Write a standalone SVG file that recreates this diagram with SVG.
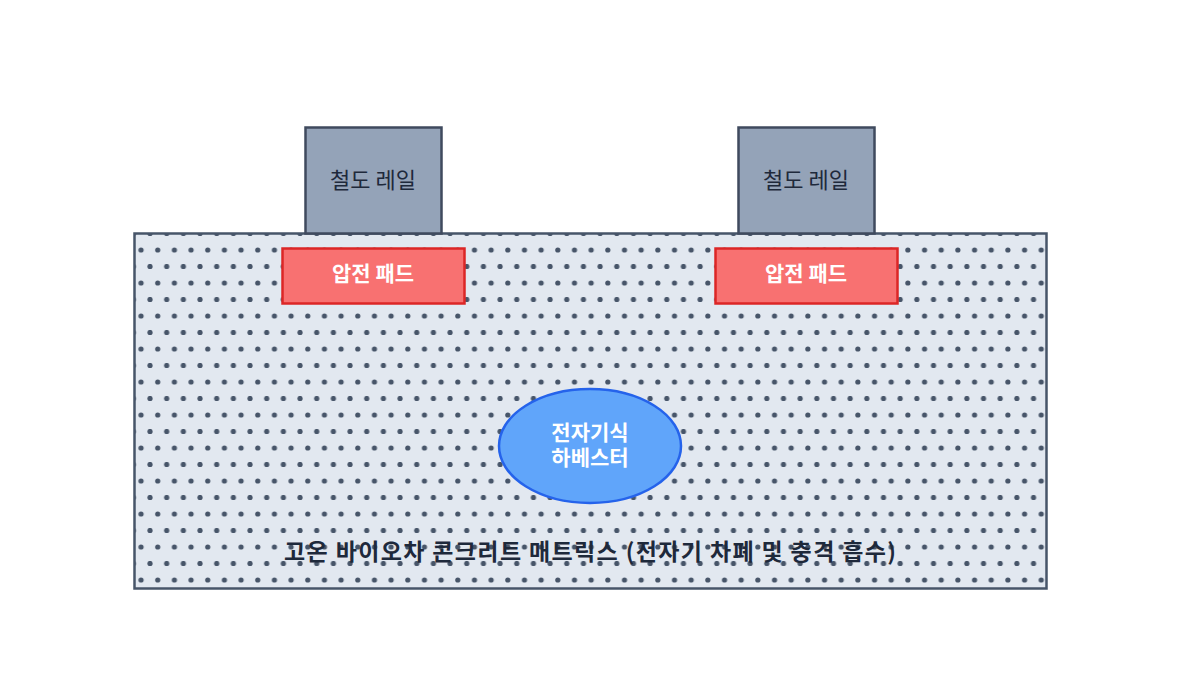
<svg xmlns="http://www.w3.org/2000/svg" width="1180" height="680" viewBox="0 0 1180 680">
<style>
.rail{fill:#94a3b8;stroke:#3f4a5e;stroke-width:2.5}
.pad{fill:#f87171;stroke:#dc2626;stroke-width:2.5}
.t{font-family:"Noto Sans CJK KR","Noto Sans",sans-serif;text-anchor:middle}
</style>
<defs>
<pattern id="dots" patternUnits="userSpaceOnUse" width="16.67" height="33">
<rect width="16.67" height="33" fill="#e2e8f0"/>
<circle cx="7.7" cy="19" r="2.6" fill="#475569"/>
<circle cx="0" cy="2.5" r="2.6" fill="#475569"/>
<circle cx="16.67" cy="2.5" r="2.6" fill="#475569"/>
</pattern>
</defs>
<rect width="1180" height="680" fill="#fff"/>
<g id="matrix">
<rect x="134.5" y="233.5" width="912" height="355" fill="url(#dots)" stroke="#475569" stroke-width="2.5"/>
<text class="t" x="590" y="560" font-size="23" font-weight="bold" fill="#1e293b" textLength="612" lengthAdjust="spacing">고온 바이오차 콘크리트 매트릭스 (전자기 차폐 및 충격 흡수)</text>
</g>
<g id="rail1"><rect class="rail" x="305.5" y="127.5" width="136" height="106"/><text class="t" x="373" y="188" font-size="22" fill="#1e293b">철도 레일</text></g>
<g id="rail2"><rect class="rail" x="738.5" y="127.5" width="136" height="106"/><text class="t" x="806" y="188" font-size="22" fill="#1e293b">철도 레일</text></g>
<g id="pad1"><rect class="pad" x="282.5" y="248.5" width="182" height="55"/><text class="t" x="373" y="281" font-size="21" font-weight="bold" fill="#fff">압전 패드</text></g>
<g id="pad2"><rect class="pad" x="715.5" y="248.5" width="182" height="55"/><text class="t" x="806" y="281" font-size="21" font-weight="bold" fill="#fff">압전 패드</text></g>
<g id="harvester"><ellipse cx="590" cy="446" rx="91" ry="57" fill="#60a5fa" stroke="#2563eb" stroke-width="2.5"/>
<text class="t" x="590" y="440" font-size="21" font-weight="bold" fill="#fff">전자기식</text>
<text class="t" x="590" y="465" font-size="21" font-weight="bold" fill="#fff">하베스터</text></g>
<g id="connectors"/>
</svg>
